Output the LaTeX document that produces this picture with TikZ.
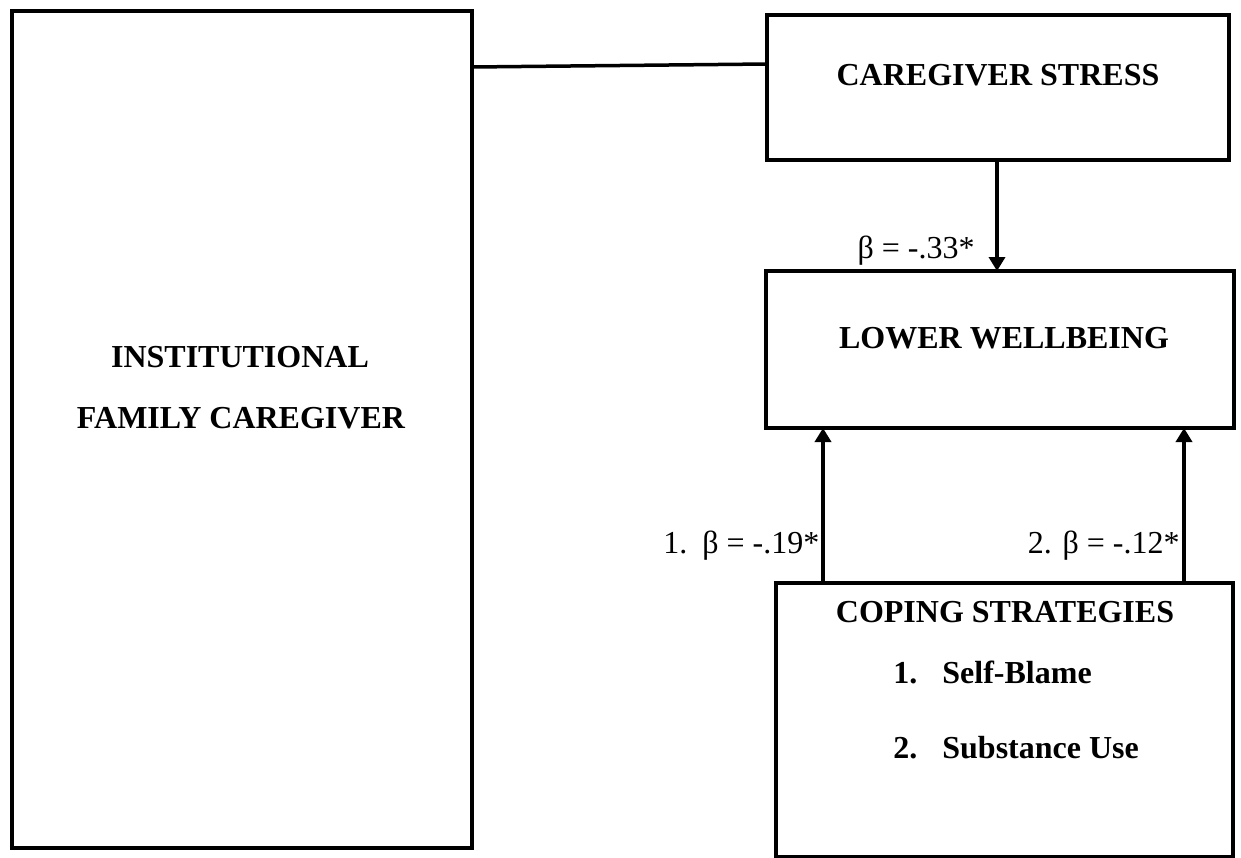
\documentclass[tikz,border=0pt]{standalone}
\usepackage{fontspec}
\setmainfont{Liberation Serif}
\usetikzlibrary{arrows.meta}
\begin{document}
\begin{tikzpicture}[x=0.5pt,y=-0.5pt,
  box/.style={draw=black, line width=2pt, rectangle, inner sep=0pt, outer sep=0pt},
  lbl/.style={font=\fontsize{16}{19}\selectfont\bfseries, inner sep=0pt, anchor=base},
  coef/.style={font=\fontsize{16}{19}\selectfont, inner sep=0pt},
  conn/.style={line width=1.75pt},
  arr/.style={line width=1.75pt, -{Triangle[length=7pt,width=8pt]}}]
\useasboundingbox (0,0) rectangle (1241,857);
% boxes
\node[box, minimum width=230pt, minimum height=418.5pt] (ifc) at (242,429.5) {};
\node[box, minimum width=231pt, minimum height=72.5pt] (stress) at (998,87.5) {};
\node[box, minimum width=234pt, minimum height=78.5pt] (well) at (1000,349.5) {};
\node[box, minimum width=228.5pt, minimum height=137pt] (cope) at (1004.5,720) {};
% texts
\node[lbl] (ifc1) at (240,367) {INSTITUTIONAL};
\node[lbl] (ifc2) at (241,428) {FAMILY CAREGIVER};
\node[lbl] (stresst) at (998,85) {CAREGIVER STRESS};
\node[lbl] (wellt) at (1004,348) {LOWER WELLBEING};
\node[lbl] (copet) at (1005,622) {COPING STRATEGIES};
\node[lbl, anchor=base west] (cope1) at (893,683) {\makebox[24.5pt][l]{1.}Self-Blame};
\node[lbl, anchor=base west] (cope2) at (893,758) {\makebox[24.5pt][l]{2.}Substance Use};
% coefficients
\node[coef, anchor=base east] (b1) at (975,258) {β = -.33*};
\node[coef, anchor=base west] (b2) at (663,553) {\makebox[19.5pt][l]{1.}β = -.19*};
\node[coef, anchor=base east] (b3) at (1180,553) {2. β = -.12*};
% connectors
\coordinate (ax1) at (997,0);
\coordinate (ax2) at (823,0);
\coordinate (ax3) at (1184,0);
\draw[conn] ([yshift=-28pt]ifc.north east) -- ([yshift=-24.5pt]stress.north west);
\draw[arr] (stress.south -| ax1) -- (well.north -| ax1);
\draw[arr] (cope.north -| ax2) -- (well.south -| ax2);
\draw[arr] (cope.north -| ax3) -- (well.south -| ax3);
\end{tikzpicture}
\end{document}
